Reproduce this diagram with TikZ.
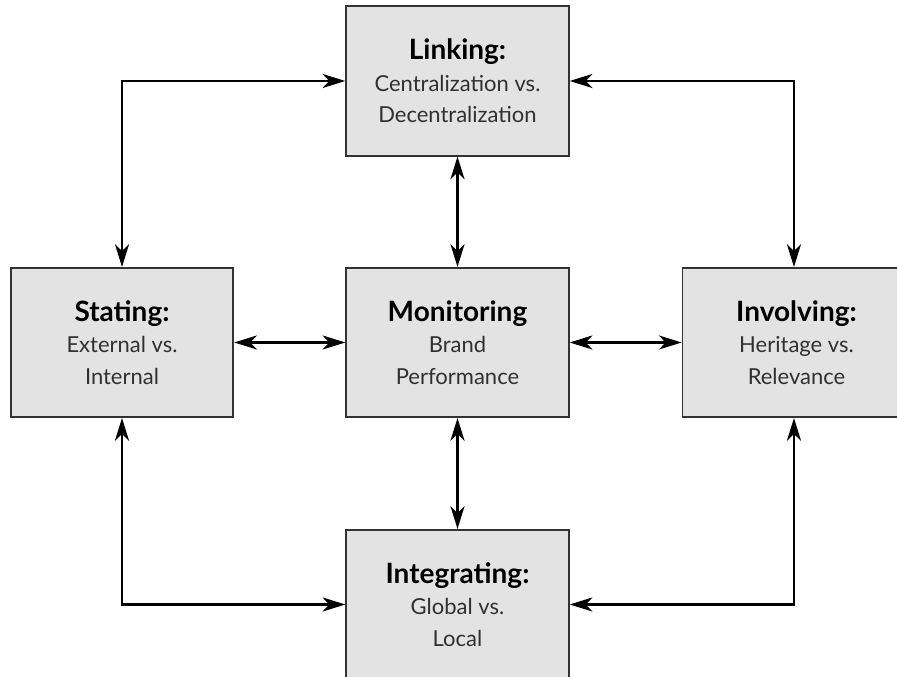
\documentclass[tikz,border=0pt]{standalone}
\usepackage{fontspec}
\setmainfont{Lato}
\usetikzlibrary{arrows.meta}
\definecolor{boxgray}{HTML}{E3E3E3}
\definecolor{edgegray}{HTML}{333333}
\definecolor{textgray}{HTML}{303030}
\tikzset{
	stage/.style={draw=edgegray, line width=1.3pt, fill=boxgray, minimum width=167pt, minimum height=112pt, inner sep=0pt, align=center, text=textgray, font=\fontsize{16.5}{23.5}\selectfont},
	link/.style={line width=2pt, >={Stealth[length=17pt,width=10.5pt,inset=5pt]}, <->}
}
\newcommand{\hd}[1]{{\color{black}\bfseries\fontsize{21}{23.5}\selectfont #1}}

\begin{document}
\begin{tikzpicture}[x=0.75pt, y=0.75pt]
	\useasboundingbox (0,0) rectangle (897,677);
	\clip (0,0) rectangle (897,677);
	\node (link) [stage] at (457.5, 596) {\hd{Linking:}\\ Centralization vs.\\ Decentralization};
	\node (stat) [stage] at (122, 334.5) {\hd{Stating:}\\ External vs.\\ Internal};
	\node (moni) [stage] at (457.5, 334.5) {\hd{Monitoring}\\ Brand\\ Performance};
	\node (invo) [stage, minimum width=171pt] at (796.5, 334.5) {\hd{Involving:}\\ Heritage vs.\\ Relevance};
	\node (inte) [stage] at (457.5, 72.5) {\hd{Integrating:}\\ Global vs.\\ Local};
	% outer loop
	\draw[link] (stat.north) |- (link.west);
	\draw[link] ([xshift=-1.9pt]invo.north) |- (link.east);
	\draw[link] (stat.south) |- (inte.west);
	\draw[link] ([xshift=-1.9pt]invo.south) |- (inte.east);
	% centre cross
	\draw[link] (link) -- (moni);
	\draw[link] (moni) -- (inte);
	\draw[link] (stat) -- (moni);
	\draw[link] (moni) -- (invo);
\end{tikzpicture}
\end{document}
